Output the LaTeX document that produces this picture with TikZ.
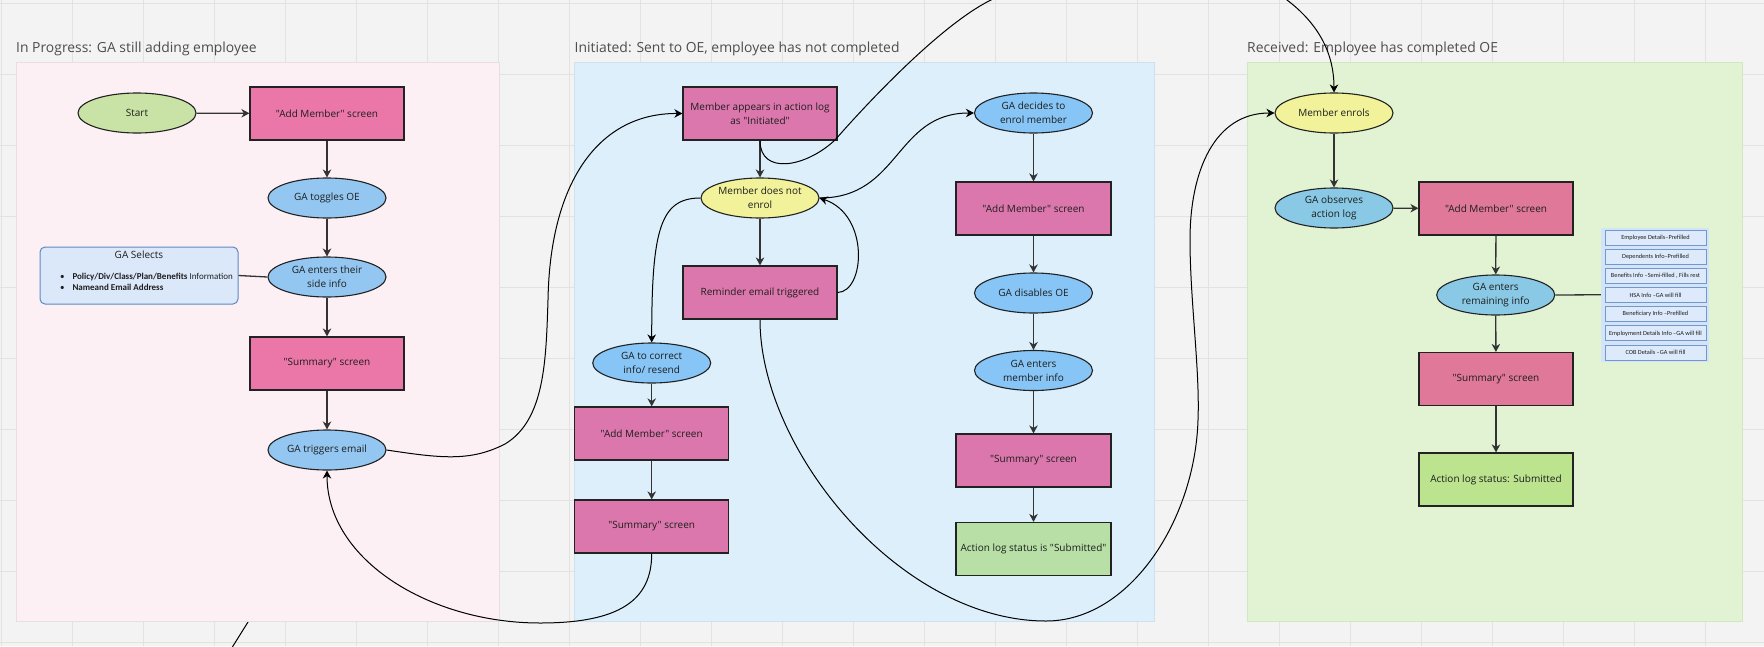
\documentclass[tikz,border=0pt]{standalone}
\usepackage{fontspec}
\setmainfont{Open Sans}[Ligatures=TeXOff]
\newfontfamily\carl{Carlito}
\usetikzlibrary{shapes.geometric,arrows.meta}
\definecolor{bgc}{HTML}{F3F3F3}
\definecolor{gridc}{HTML}{E2E2E2}
\definecolor{pinkP}{HTML}{FCF0F5}
\definecolor{pinkPb}{HTML}{EADDE3}
\definecolor{blueP}{HTML}{DCEFFB}
\definecolor{bluePb}{HTML}{CCE2F0}
\definecolor{greenP}{HTML}{E2F3D3}
\definecolor{greenPb}{HTML}{D2E6C2}
\definecolor{pkA}{HTML}{EB77A9}
\definecolor{pkB}{HTML}{DC77AD}
\definecolor{pkC}{HTML}{DF7899}
\definecolor{blA}{HTML}{93C7F1}
\definecolor{blB}{HTML}{86C5F5}
\definecolor{blC}{HTML}{89C9E5}
\definecolor{yel}{HTML}{F2F29A}
\definecolor{grA}{HTML}{C8E3A5}
\definecolor{grB}{HTML}{B8E0A6}
\definecolor{grC}{HTML}{BCE38E}
\definecolor{selF}{HTML}{DAE8F9}
\definecolor{selB}{HTML}{5E89C3}
\definecolor{infoBg}{HTML}{D3E4F6}
\definecolor{infoF}{HTML}{DDEAFB}
\definecolor{infoB}{HTML}{7398CE}
\definecolor{txt}{HTML}{1E1E1E}
\definecolor{ttlc}{HTML}{4D4D4D}
\definecolor{lin}{HTML}{333333}
\definecolor{edge}{HTML}{222222}
\tikzset{
  nodefont/.style={font=\fontsize{10}{14}\selectfont},
  box/.style={rectangle, draw=edge, line width=1.2pt, minimum width=154pt, minimum height=53pt, inner sep=0pt, align=center, text=txt, nodefont},
  ell/.style={ellipse, draw=edge, line width=1.1pt, minimum width=118pt, minimum height=40pt, inner sep=0pt, align=center, text=txt, nodefont},
  arr/.style={draw=lin, line width=1.3pt, -{Stealth[length=8pt,width=8.5pt,inset=2.5pt]}},
  plainln/.style={draw=lin, line width=1.3pt},
  crv/.style={draw=black, line width=1pt},
  crva/.style={crv, -{Stealth[length=8pt,width=8.5pt,inset=2.5pt]}},
  ttl/.style={anchor=base west, text=ttlc, font=\fontsize{13.9}{16}\selectfont, inner sep=0pt},
  infobox/.style={rectangle, draw=infoB, line width=0.9pt, fill=infoF, minimum width=101pt, minimum height=15pt, inner sep=0pt, font=\carl\fontsize{6.3}{7}\selectfont, text=txt},
  gridl/.style={draw=gridc, line width=1pt},
}
\begin{document}
\begin{tikzpicture}[x=1pt,y=-1pt]
\useasboundingbox (0,0) rectangle (1764,646);
\fill[bgc] (0,0) rectangle (1764,646);
\foreach \i in {0,...,24} {\draw[gridl] ({1.7+71*\i},0) -- ({1.7+71*\i},646);}
\foreach \j in {0,...,9} {\draw[gridl] (0,{3.3+71*\j}) -- (1764,{3.3+71*\j});}

% partial connector leaving the picture at the bottom
\coordinate (p1) at (228,654);
\coordinate (p2) at (253,614);
\draw[crv] (p1) -- (p2);

% panels
\draw[fill=pinkP, draw=pinkPb, line width=1pt] (16,62) rectangle (499,621);
\draw[fill=blueP, draw=bluePb, line width=1pt] (574.5,62) rectangle (1154,621);
\draw[fill=greenP, draw=greenPb, line width=1pt] (1247,62) rectangle (1742.5,621);

\node[ttl] (t1) at (16,52) {In Progress: GA still adding employee};
\node[ttl] (t2) at (574.5,52) {Initiated: Sent to OE, employee has not completed};
\node[ttl] (t3) at (1247,52) {Received: Employee has completed OE};

% left column
\node[ell, fill=grA] (start) at (137,113) {Start};
\node[box, fill=pkA] (am1) at (327,113.5) {"Add Member" screen};
\node[ell, fill=blA] (tog) at (327,198) {GA toggles OE};
\node[ell, fill=blA] (side) at (327,277) {GA enters their\\side info};
\node[box, fill=pkA] (sum1) at (327,363.5) {"Summary" screen};
\node[ell, fill=blA] (trig) at (327,450) {GA triggers email};

\node[rectangle, rounded corners=5pt, draw=selB, line width=1pt, fill=selF, minimum width=198pt, minimum height=57pt, inner sep=0pt] (sel) at (139,275.5) {};
\node[anchor=base, inner sep=0pt, text=txt, font=\fontsize{10}{12}\selectfont] (selt) at (139,258.5) {GA Selects};
\node[anchor=base west, inner sep=0pt, text=txt, font=\carl\fontsize{9}{11}\selectfont] (sel1) at (60,279) {\makebox[12.3pt][l]{\textbullet}\textbf{Policy/Div/Class/Plan/Benefits} Information};
\node[anchor=base west, inner sep=0pt, text=txt, font=\carl\fontsize{9}{11}\selectfont] (sel2) at (60,290) {\makebox[12.3pt][l]{\textbullet}\textbf{Nameand Email Address}};

% middle
\node[box, fill=pkB] (app) at (760,113.5) {Member appears in action log\\as "Initiated"};
\node[ell, fill=yel] (noenr) at (760,198) {Member does not\\enrol};
\node[box, fill=pkB] (rem) at (760,292.5) {Reminder email triggered};
\node[ell, fill=blB] (corr) at (651.7,363) {GA to correct\\info/ resend};
\node[box, fill=pkB] (am2) at (651.7,433.5) {"Add Member" screen};
\node[box, fill=pkB] (sum2) at (651.7,526.5) {"Summary" screen};
\node[ell, fill=blB] (dec) at (1033.5,113) {GA decides to\\enrol member};
\node[box, fill=pkB, minimum width=155pt] (am3) at (1033.5,208.5) {"Add Member" screen};
\node[ell, fill=blB] (dis) at (1033.5,293) {GA disables OE};
\node[ell, fill=blB] (ent) at (1033.5,370.5) {GA enters\\member info};
\node[box, fill=pkB, minimum width=155pt] (sum3) at (1033.5,460.5) {"Summary" screen};
\node[box, fill=grB, minimum width=155pt] (sub1) at (1033.5,549) {Action log status is "Submitted"};

% right
\node[ell, fill=yel] (enr) at (1334,113) {Member enrols};
\node[ell, fill=blC] (obs) at (1334,208) {GA observes\\action log};
\node[box, fill=pkC] (am4) at (1496,208.5) {"Add Member" screen};
\node[ell, fill=blC] (rem2) at (1495.7,295) {GA enters\\remaining info};
\node[box, fill=pkC] (sum4) at (1496,379) {"Summary" screen};
\node[box, fill=grC] (sub2) at (1496,479.5) {Action log status: Submitted};

\node[rectangle, fill=infoBg, minimum width=108pt, minimum height=133.5pt, inner sep=0pt] (infobg) at (1655,294.75) {};
\node[infobox] (i1) at (1655.5,237.5) {Employee Details–Prefilled};
\node[infobox] (i2) at (1655.5,256.7) {Dependents Info–Prefilled};
\node[infobox] (i3) at (1655.5,275.8) {Benefits Info –Semi-filled , Fills rest};
\node[infobox] (i4) at (1655.5,295) {HSA Info –GA will fill};
\node[infobox] (i5) at (1655.5,314.2) {Beneficiary Info –Prefilled};
\node[infobox] (i6) at (1655.5,333.4) {Employment Details Info –GA will fill};
\node[infobox] (i7) at (1655.5,352.5) {COB Details –GA will fill};

% straight connectors
\draw[arr] (start) -- (am1);
\draw[arr] (am1) -- (tog);
\draw[arr] (tog) -- (side);
\draw[arr] (side) -- (sum1);
\draw[arr] (sum1) -- (trig);
\draw[plainln] (sel.east) -- (side.west);

\draw[arr] (app) -- (noenr);
\draw[arr] (noenr) -- (rem);
\draw[arr] (corr) -- (am2);
\draw[arr] (am2) -- (sum2);
\draw[arr] (dec) -- (am3);
\draw[arr] (am3) -- (dis);
\draw[arr] (dis) -- (ent);
\draw[arr] (ent) -- (sum3);
\draw[arr] (sum3) -- (sub1);

\draw[arr] (enr) -- (obs);
\draw[arr] (obs) -- (am4);
\draw[arr] (am4) -- (rem2);
\draw[arr] (rem2) -- (sum4);
\draw[arr] (sum4) -- (sub2);
\draw[plainln] (rem2.east) -- (infobg.west);

% curved connectors
\draw[crva] (trig.east) .. controls (440,458) and (470,462) .. (505,444) .. controls (545,420) and (546,360) .. (548,300) .. controls (550,180) and (600,113) .. (app.west);
\draw[crva] (sum2.south) .. controls (651.7,600) and (620,623) .. (540,623) .. controls (430,623) and (327,560) .. (trig.south);
\draw[crva] (app.south) .. controls (760,175) and (805,168) .. (835,140) .. controls (870,100) and (950,15) .. (1000,-4) .. controls (1080,-35) and (1230,-45) .. (1287,0) .. controls (1320,25) and (1334,55) .. (enr.north);
\draw[crva] (noenr.west) .. controls (660,198) and (651.7,230) .. (corr.north);
\draw[crva] (noenr.east) .. controls (900,198) and (895,113) .. (dec.west);
\draw[crva] (rem.east) .. controls (865,292) and (870,215) .. (noenr.east);
\draw[crva] (rem.south) .. controls (760,450) and (900,621) .. (1046,621) .. controls (1130,621) and (1195,520) .. (1198,420) .. controls (1200,370) and (1190,300) .. (1190,240) .. controls (1190,170) and (1215,113) .. (enr.west);
\end{tikzpicture}
\end{document}
